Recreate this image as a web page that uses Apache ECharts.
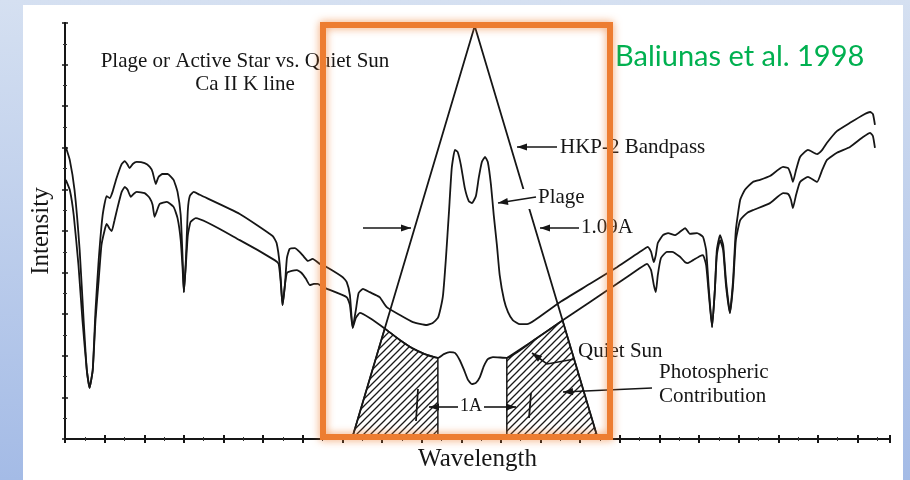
<!DOCTYPE html>
<html>
<head>
<meta charset="utf-8">
<script src="https://cdn.jsdelivr.net/npm/echarts@6/dist/echarts.min.js"></script>
<style>
  html, body { margin: 0; padding: 0; background: #fff; }
  #chart { width: 910px; height: 480px; }
</style>
</head>
<body>
<div id="chart"></div>
<script>
// Wavelength in axis-tick units, intensity in percent of full scale.

// Plage / active-star spectrum (upper trace)
const activeStar = [
  [0.02,70.2],[0.12,67.1],[0.24,59.9],[0.37,45.4],[0.47,28.6],[0.55,16.6],[0.62,12.3],[0.70,16.6],
  [0.77,31.0],[0.85,43.0],[0.95,53.8],[1.05,58.4],[1.13,57.9],[1.20,59.4],[1.30,62.7],[1.43,66.1],
  [1.51,66.8],[1.58,65.9],[1.63,65.1],[1.71,66.1],[1.81,66.6],[2.01,66.3],[2.14,65.4],[2.21,64.2],
  [2.29,61.3],[2.36,63.0],[2.46,63.7],[2.59,63.7],[2.74,62.3],[2.84,59.4],[2.92,53.8],[2.97,43.0],
  [3.00,35.3],[3.05,43.0],[3.10,55.0],[3.15,58.4],[3.25,59.4],[3.40,58.7],[4.41,54.1],[5.24,48.8],
  [5.34,47.1],[5.42,41.8],[5.47,34.6],[5.49,32.2],[5.55,37.0],[5.60,43.5],[5.67,45.7],[5.80,45.9],
  [5.92,45.0],[6.03,43.8],[6.13,42.8],[6.25,43.3],[6.43,42.1],[6.61,41.3],[7.01,38.9],[7.11,37.7],
  [7.19,34.6],[7.26,26.7],[7.34,31.0],[7.41,35.1],[7.52,36.1],[7.69,35.3],[7.94,34.1],[8.12,31.7],
  [8.45,29.8],[8.78,28.1],[9.13,27.4],[9.28,27.9],[9.41,29.1],[9.48,31.5],[9.54,34.6],[9.61,43.0],
  [9.69,54.6],[9.76,65.1],[9.84,69.5],[9.91,69.0],[9.99,65.9],[10.09,60.3],[10.19,57.2],[10.27,56.7],
  [10.37,58.4],[10.44,62.7],[10.52,66.6],[10.60,67.8],[10.67,66.6],[10.75,61.1],[10.82,53.8],[10.90,46.6],
  [10.97,39.4],[11.08,33.4],[11.18,30.5],[11.30,28.6],[11.48,27.6],[11.66,27.6],[11.86,28.6],[12.49,32.9],
  [13.25,37.3],[13.93,41.3],[14.51,45.0],[14.71,46.2],[14.79,45.0],[14.86,42.5],[14.91,44.2],[14.96,47.1],
  [15.09,49.0],[15.22,49.5],[15.39,49.0],[15.52,49.8],[15.65,50.7],[15.77,49.3],[15.95,49.5],[16.10,48.6],
  [16.18,45.4],[16.25,35.8],[16.33,26.9],[16.40,35.8],[16.45,45.4],[16.53,49.0],[16.61,46.6],[16.68,38.2],
  [16.78,30.3],[16.86,38.2],[16.93,50.2],[17.04,57.5],[17.16,59.9],[17.36,61.8],[17.54,62.3],[17.79,63.2],
  [18.12,65.4],[18.25,65.1],[18.32,63.5],[18.37,61.8],[18.45,64.7],[18.55,67.8],[18.75,69.5],[18.98,68.5],
  [19.11,69.5],[19.23,71.2],[19.48,74.0],[19.81,76.0],[20.14,77.9],[20.32,78.6],[20.39,78.1],[20.44,75.5]
];

// Quiet Sun spectrum (lower trace)
const quietSun = [
  [0.02,62.3],[0.12,59.9],[0.22,53.8],[0.34,41.8],[0.44,28.6],[0.55,16.6],[0.62,12.3],[0.70,16.6],
  [0.77,28.6],[0.85,38.2],[0.92,46.6],[1.00,50.2],[1.05,51.7],[1.13,50.5],[1.18,50.0],[1.25,52.6],
  [1.33,55.8],[1.43,59.4],[1.51,60.6],[1.58,59.9],[1.66,58.2],[1.73,58.9],[1.81,59.4],[2.01,59.1],
  [2.14,57.9],[2.21,56.3],[2.26,53.4],[2.31,54.6],[2.39,56.5],[2.57,57.0],[2.74,55.8],[2.84,53.1],
  [2.92,47.8],[2.97,40.6],[3.00,35.3],[3.05,41.8],[3.10,49.0],[3.17,52.2],[3.30,53.1],[4.41,47.8],
  [5.29,43.0],[5.39,42.1],[5.44,38.2],[5.49,32.2],[5.55,37.0],[5.60,39.9],[5.72,40.4],[5.85,40.6],
  [5.97,39.9],[6.08,38.5],[6.18,37.0],[6.28,37.3],[6.38,37.3],[6.51,36.5],[7.11,34.1],[7.19,32.2],
  [7.26,26.7],[7.34,29.1],[7.44,30.3],[7.69,29.1],[8.05,26.7],[8.45,23.8],[8.75,21.9],[9.08,20.4],
  [9.41,19.5],[9.56,20.4],[9.71,20.9],[9.84,20.7],[9.96,19.0],[10.07,16.6],[10.17,14.2],[10.27,13.2],
  [10.37,13.5],[10.47,14.9],[10.57,17.5],[10.67,19.2],[10.80,19.7],[11.15,19.5],[11.81,23.6],[12.57,28.6],
  [13.93,37.3],[14.51,41.1],[14.69,42.1],[14.79,40.6],[14.86,37.0],[14.91,35.3],[14.96,39.4],[15.04,43.5],
  [15.19,45.0],[15.32,45.0],[15.52,43.8],[15.65,42.5],[15.72,42.3],[15.85,43.0],[16.03,44.0],[16.10,44.2],
  [16.18,41.8],[16.25,34.6],[16.33,26.9],[16.40,35.8],[16.45,44.2],[16.53,47.8],[16.61,45.4],[16.68,37.0],
  [16.78,30.3],[16.86,37.0],[16.93,47.8],[17.04,52.6],[17.21,54.3],[17.36,55.0],[17.79,56.7],[18.12,59.1],
  [18.25,58.9],[18.32,57.5],[18.37,55.5],[18.45,58.7],[18.55,61.8],[18.75,63.0],[18.98,61.8],[19.11,64.7],
  [19.23,67.1],[19.48,68.8],[19.81,70.2],[20.14,72.6],[20.32,73.6],[20.39,72.8],[20.44,70.0]
];

// HKP-2 triangular bandpass (base left, apex, base right)
const bandpass = [[7.24,0],[10.34,99.3],[13.45,0]];

// Edges of the central 1 A window
const coreEdges = [9.41, 11.15];

// ---- helpers ----
function interp(arr, x) {
  if (x <= arr[0][0]) return arr[0][1];
  for (let i = 1; i < arr.length; i++) {
    if (x <= arr[i][0]) {
      const [x0, y0] = arr[i - 1], [x1, y1] = arr[i];
      return y0 + (y1 - y0) * (x - x0) / (x1 - x0);
    }
  }
  return arr[arr.length - 1][1];
}

// Photospheric contribution: quiet-Sun flux seen through the bandpass, outside the core
function contribution(x0, x1) {
  const pts = [[x0, 0]];
  const n = 160;
  for (let i = 0; i <= n; i++) {
    const x = x0 + (x1 - x0) * i / n;
    pts.push([x, Math.min(interp(quietSun, x), interp(bandpass, x))]);
  }
  pts.push([x1, 0]);
  return pts;
}
const hatchRegions = [
  contribution(bandpass[0][0], coreEdges[0]),
  contribution(coreEdges[1], bandpass[2][0])
];

// diagonal hatch tile
const tile = document.createElement('canvas');
tile.width = 7; tile.height = 7;
const tc = tile.getContext('2d');
tc.strokeStyle = '#1a1a1a';
tc.lineWidth = 1.3;
tc.beginPath();
tc.moveTo(0, 7); tc.lineTo(7, 0);
tc.moveTo(-1, 1); tc.lineTo(1, -1);
tc.moveTo(6, 8); tc.lineTo(8, 6);
tc.stroke();
const hatchPattern = { image: tile, repeat: 'repeat' };

const INK = '#161616';
const SERIF = '"Liberation Serif", "DejaVu Serif", serif';

function arrow(pts, opts) {
  const o = opts || {};
  const n = pts.length;
  const [tx, ty] = pts[n - 1], [px, py] = pts[n - 2];
  const a = Math.atan2(ty - py, tx - px);
  const L = o.len || 10, W = o.half || 3.6;
  const bx = tx - L * Math.cos(a), by = ty - L * Math.sin(a);
  const head = [[tx, ty],
    [bx + W * Math.sin(a), by - W * Math.cos(a)],
    [bx - W * Math.sin(a), by + W * Math.cos(a)]];
  return [
    { type: 'polyline', z: 100, shape: { points: pts }, style: { stroke: INK, lineWidth: 1.6, fill: null } },
    { type: 'polygon', z: 100, shape: { points: head }, style: { fill: INK } }
  ];
}

function label(text, x, y, size, align) {
  return {
    type: 'text', z: 100, x: x, y: y,
    style: { text: text, font: size + 'px ' + SERIF, fill: INK, align: align || 'left', verticalAlign: 'middle' }
  };
}

function segment(p1, p2) {
  return { type: 'line', z: 100, shape: { x1: p1[0], y1: p1[1], x2: p2[0], y2: p2[1] }, style: { stroke: INK, lineWidth: 1.8 } };
}

const frameAxis = {
  axisLine: { show: true, lineStyle: { color: INK, width: 2 } },
  axisTick: { show: true, inside: true, length: 4, lineStyle: { color: INK, width: 2 } },
  minorTick: { show: true, splitNumber: 2, length: 2, lineStyle: { color: '#333', width: 1 } },
  axisLabel: { show: false },
  splitLine: { show: false }
};

const chart = echarts.init(document.getElementById('chart'), null, { renderer: 'canvas' });

chart.setOption({
  animation: false,
  backgroundColor: {
    type: 'linear', x: 0, y: 0, x2: 0, y2: 1,
    colorStops: [{ offset: 0, color: '#d5e0f1' }, { offset: 1, color: '#a4bbe6' }]
  },
  grid: { left: 65, right: 20, top: 23, bottom: 41 },
  xAxis: [
    Object.assign({
      type: 'value', min: 0, max: 20.82, interval: 1, position: 'bottom',
      name: 'Wavelength', nameLocation: 'middle', nameGap: 8,
      nameTextStyle: { fontFamily: SERIF, fontSize: 25, color: INK }
    }, frameAxis),
    Object.assign({ type: 'value', min: 0, max: 20.82, interval: 1, position: 'top' }, frameAxis)
  ],
  yAxis: [
    Object.assign({
      type: 'value', min: 0, max: 100, interval: 10, position: 'left',
      name: 'Intensity', nameLocation: 'middle', nameGap: 11, nameRotate: 90,
      nameTextStyle: { fontFamily: SERIF, fontSize: 25, color: INK }
    }, frameAxis, { axisTick: { show: true, inside: true, length: 3, lineStyle: { color: INK, width: 1.5 } } }),
    Object.assign({ type: 'value', min: 0, max: 100, interval: 10, position: 'right' }, frameAxis,
      { axisTick: { show: true, inside: true, length: 3, lineStyle: { color: INK, width: 1.5 } } })
  ],
  series: [
    {
      type: 'custom', name: 'Photospheric Contribution', silent: true, z: 1,
      data: [[0, 0], [1, 0]],
      renderItem: function (params, api) {
        const region = hatchRegions[params.dataIndex];
        return {
          type: 'polygon',
          shape: { points: region.map(p => api.coord(p)) },
          style: { fill: hatchPattern, stroke: INK, lineWidth: 1.5 }
        };
      }
    },
    {
      type: 'line', name: 'HKP-2 Bandpass', data: bandpass, showSymbol: false, z: 3, silent: true,
      lineStyle: { color: INK, width: 1.8 }
    },
    {
      type: 'line', name: 'Quiet Sun', data: quietSun, showSymbol: false, smooth: 0.15, z: 3, silent: true,
      lineStyle: { color: INK, width: 1.8 }
    },
    {
      type: 'line', name: 'Plage', data: activeStar, showSymbol: false, smooth: 0.15, z: 3, silent: true,
      lineStyle: { color: INK, width: 1.8 }
    }
  ],
  graphic: [
    { type: 'rect', z: -10, shape: { x: 23, y: 5, width: 880, height: 480 }, style: { fill: '#ffffff' } },

    label('Plage or Active Star vs. Quiet Sun', 245, 61, 21, 'center'),
    label('Ca II K line', 245, 84, 21, 'center'),

    label('HKP-2 Bandpass', 560, 147, 21),
    ...arrow([[557, 147], [517, 147]]),

    { type: 'rect', z: 50, shape: { x: 521, y: 189, width: 15, height: 20 }, style: { fill: '#ffffff' } },
    label('Plage', 538, 197, 21),
    ...arrow([[536, 197], [498, 203]]),

    label('1.09A', 581, 227, 21),
    ...arrow([[579, 228], [540, 228]]),
    ...arrow([[363, 228], [411, 228]]),

    label('Quiet Sun', 578, 351, 21),
    ...arrow([[575, 359], [547, 364], [532, 353]]),

    label('Photospheric', 659, 372, 21),
    label('Contribution', 659, 396, 21),
    ...arrow([[652, 388], [563, 392]]),

    label('1A', 471, 406, 18, 'center'),
    ...arrow([[458, 407], [429, 407]]),
    ...arrow([[484, 407], [516, 407]]),
    segment([418, 389], [416, 421]),
    segment([531, 393], [529, 418]),

    {
      type: 'text', z: 150, x: 615, y: 57,
      style: { text: 'Baliunas et al. 1998', font: '29px Lato, "Open Sans", sans-serif', fill: '#00b050', align: 'left', verticalAlign: 'middle' }
    },

    {
      type: 'rect', z: 200, shape: { x: 323, y: 25, width: 287, height: 412 },
      style: { fill: null, stroke: '#ed7d31', lineWidth: 6, shadowBlur: 8, shadowColor: 'rgba(237,125,49,0.75)' }
    }
  ]
});
</script>
</body>
</html>
